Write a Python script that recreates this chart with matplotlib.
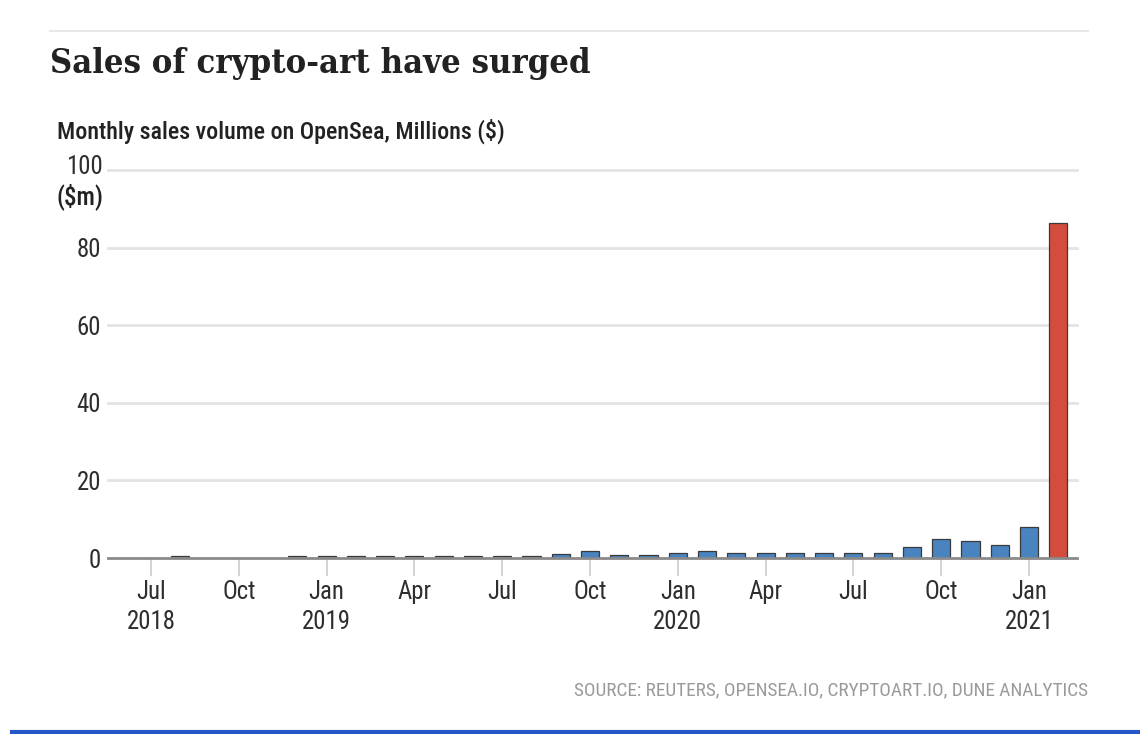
import matplotlib
matplotlib.use("Agg")
import matplotlib.pyplot as plt
from matplotlib import font_manager as fm
from matplotlib.transforms import blended_transform_factory
import numpy as np

months = ["Jul 2018", "Aug 2018", "Sep 2018", "Oct 2018", "Nov 2018", "Dec 2018",
          "Jan 2019", "Feb 2019", "Mar 2019", "Apr 2019", "May 2019", "Jun 2019",
          "Jul 2019", "Aug 2019", "Sep 2019", "Oct 2019", "Nov 2019", "Dec 2019",
          "Jan 2020", "Feb 2020", "Mar 2020", "Apr 2020", "May 2020", "Jun 2020",
          "Jul 2020", "Aug 2020", "Sep 2020", "Oct 2020", "Nov 2020", "Dec 2020",
          "Jan 2021", "Feb 2021"]
sales = [0, 0.5, 0, 0, 0, 0.4,
         0.4, 0.6, 0.6, 0.6, 0.6, 0.5,
         0.5, 0.5, 1.0, 1.9, 0.9, 0.9,
         1.3, 1.8, 1.3, 1.3, 1.3, 1.3,
         1.3, 1.3, 2.9, 5.0, 4.4, 3.4,
         7.9, 86.3]
highlight = "Feb 2021"
tick_labels = ["Jul\n2018", "Oct", "Jan\n2019", "Apr", "Jul", "Oct", "Jan\n2020",
               "Apr", "Jul", "Oct", "Jan\n2021"]
y_ticks = [0, 20, 40, 60, 80, 100]


def find_font(names, fallback_family):
    files = {f.fname.split("/")[-1].lower(): f.fname for f in fm.fontManager.ttflist}
    for n in names:
        if n.lower() in files:
            return fm.FontProperties(fname=files[n.lower()])
    return fm.FontProperties(family=fallback_family)


cond = find_font(["RobotoCondensed-Regular.ttf", "LiberationSansNarrow-Regular.ttf",
                  "DejaVuSansCondensed.ttf"], "DejaVu Sans")
condm = find_font(["RobotoCondensed-Medium.ttf", "RobotoCondensed-Regular.ttf",
                   "DejaVuSansCondensed.ttf"], "DejaVu Sans")
serifb = find_font(["DejaVuSerifCondensed-Bold.ttf", "LiberationSerif-Bold.ttf"],
                   "DejaVu Serif")

W, H = 1140, 734
fig = plt.figure(figsize=(W / 100, H / 100), dpi=100)
fig.patch.set_facecolor("white")
renderer = fig.canvas.get_renderer()


def fx(px):
    return px / W


def fy(py):
    return 1 - py / H


def fit(t, target_w):
    for _ in range(3):
        bb = t.get_window_extent(renderer)
        t.set_fontsize(t.get_fontsize() * target_w / bb.width)


ax = fig.add_axes([fx(108), fy(558), fx(1077) - fx(108), fy(170) - fy(558)])
x = np.arange(len(months))
colors = ["#d44c3e" if m == highlight else "#4a84c0" for m in months]
ax.bar(x, sales, width=0.62, color=colors, edgecolor="#3a3a3a", linewidth=0.9, zorder=3)

ax.set_xlim(-1.47, 31.64)
ax.set_ylim(0, 100)
for s in ax.spines.values():
    s.set_visible(False)
for v in y_ticks[1:]:
    ax.axhline(v, color="#e3e3e3", linewidth=2, zorder=1, clip_on=False)
ax.axhline(0, color="#8a8a8a", linewidth=2, zorder=4, clip_on=False)

probe = fig.text(0, 0, "2018", fontproperties=cond, fontsize=17)
fit(probe, 49)
tick_fs = probe.get_fontsize()
probe.remove()

ax.set_yticks(y_ticks)
ax.set_yticklabels([str(v) if v != 100 else "" for v in y_ticks], fontproperties=cond,
                   fontsize=tick_fs, color="#2e2e2e")
ax.tick_params(axis="y", length=0, pad=5)
tr = blended_transform_factory(fig.transFigure, ax.transData)
ax.text(fx(103), 100.8, "100", transform=tr, ha="right", va="center",
        fontproperties=cond, fontsize=tick_fs, color="#2e2e2e")

ax.set_xticks(x[::3])
ax.set_xticklabels(tick_labels, fontproperties=cond, fontsize=tick_fs, color="#2e2e2e",
                   linespacing=1.3, va="top")
ax.tick_params(axis="x", length=13, width=1.2, color="#cccccc", pad=3)

fig.text(fx(103), fy(197), "($m)", ha="right", va="center",
         fontproperties=condm, fontsize=tick_fs, color="#222222")

t1 = fig.text(fx(50), fy(63), "Sales of crypto-art have surged", ha="left", va="center",
              fontproperties=serifb, fontsize=28, color="#222222")
fit(t1, 542)
t2 = fig.text(fx(57), fy(131), "Monthly sales volume on OpenSea, Millions ($)", ha="left",
              va="center", fontproperties=condm, fontsize=16, color="#222222")
fit(t2, 448)
t3 = fig.text(fx(1088), fy(690), "SOURCE: REUTERS, OPENSEA.IO, CRYPTOART.IO, DUNE ANALYTICS",
              ha="right", va="center", fontproperties=cond, fontsize=13, color="#9a9a9a")
fit(t3, 515)

fig.add_artist(plt.Line2D([fx(50), fx(1088)], [fy(31), fy(31)], color="#e8e8e8",
                          linewidth=1.5))
fig.add_artist(plt.Line2D([fx(12), fx(1140)], [fy(732), fy(732)], color="#2557c9",
                          linewidth=3))

fig.savefig("out.png", dpi=100, facecolor="white")
